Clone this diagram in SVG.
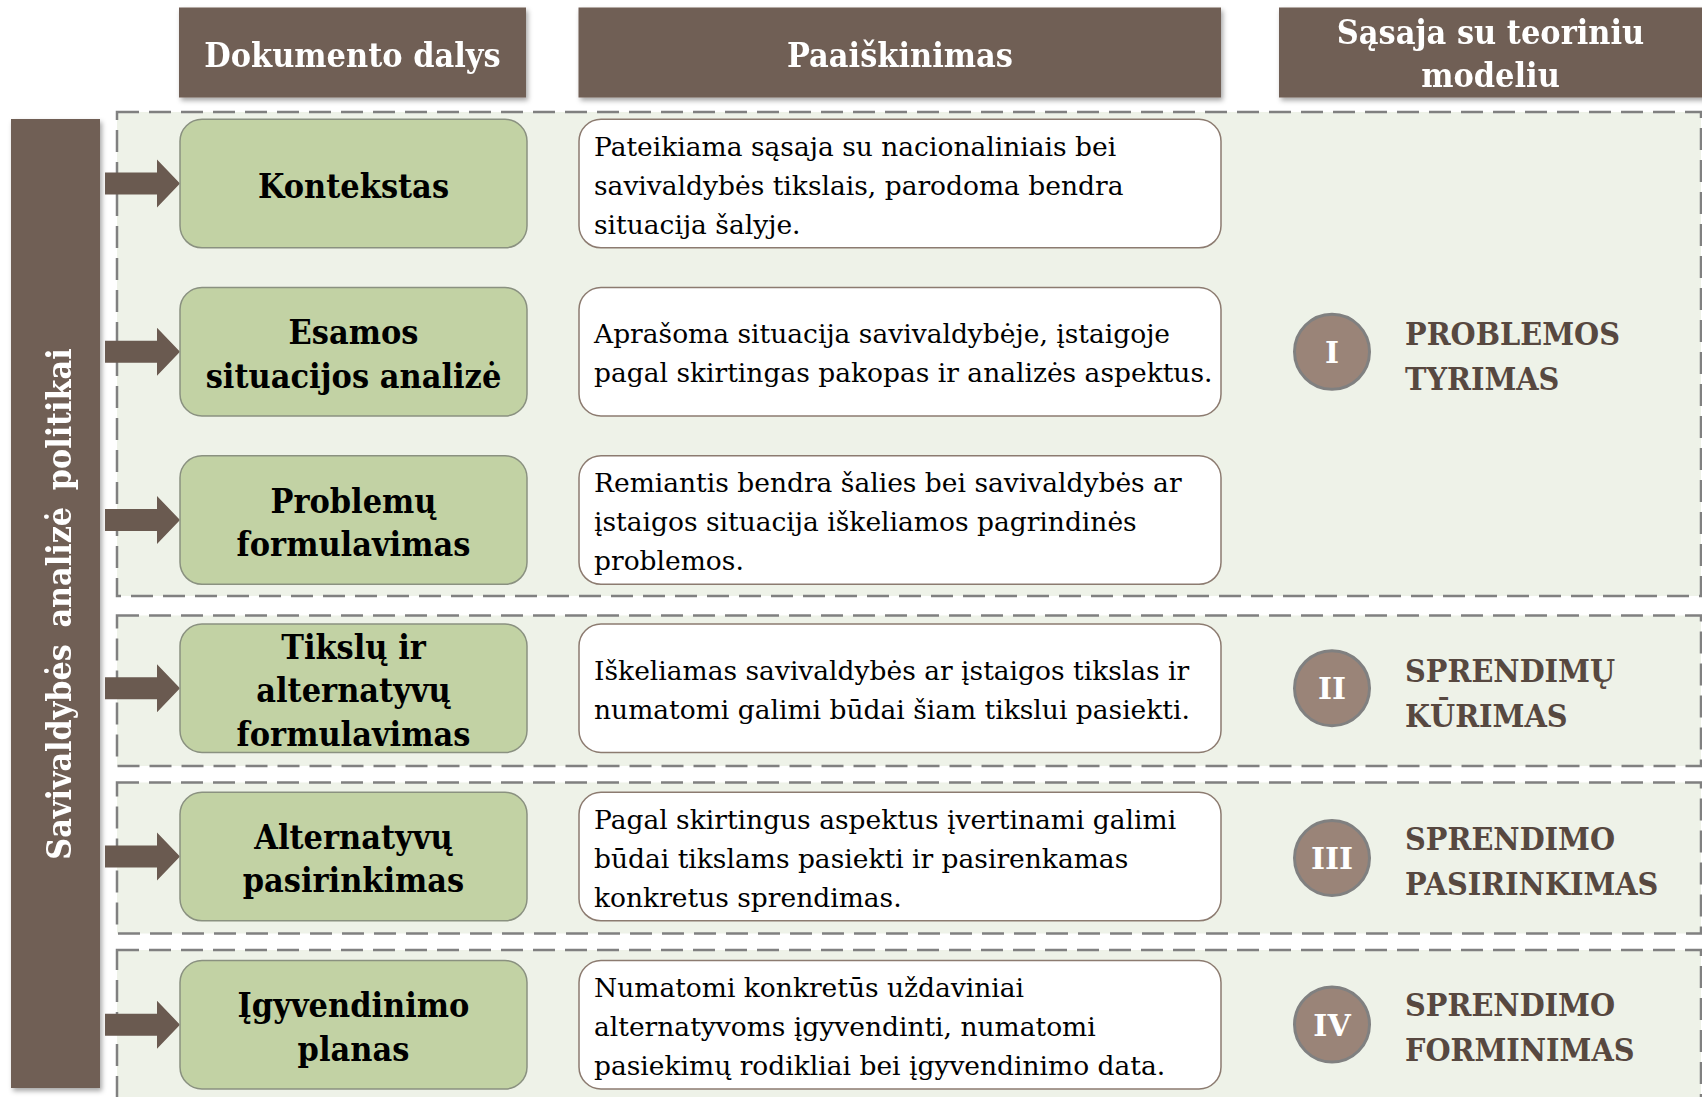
<svg xmlns="http://www.w3.org/2000/svg" width="1702" height="1097" viewBox="0 0 1702 1097">
  <defs>
    <filter id="sh" x="-5%" y="-5%" width="112%" height="125%">
      <feDropShadow dx="2" dy="3" stdDeviation="2.5" flood-color="#000" flood-opacity="0.35"/>
    </filter>
    <filter id="shv" x="-10%" y="-2%" width="125%" height="105%">
      <feDropShadow dx="2" dy="3" stdDeviation="2.5" flood-color="#000" flood-opacity="0.35"/>
    </filter>
  </defs>
  <style>
    .hdr { fill: #705F55; }
    .htxt { font-family: "DejaVu Serif", serif; font-weight: bold; font-size: 33px; fill: #FFFFFF; text-anchor: middle; }
    .vtxt { font-family: "DejaVu Serif", serif; font-weight: bold; font-size: 34px; fill: #FFFFFF; text-anchor: middle; }
    .grp { fill: #EEF2E8; stroke: #808080; stroke-width: 2.5; stroke-dasharray: 22 10; }
    .gbox { fill: #C2D2A4; stroke: #8A9180; stroke-width: 1.5; }
    .gtxt { font-family: "DejaVu Serif", serif; font-weight: bold; font-size: 33px; fill: #000000; text-anchor: middle; }
    .wbox { fill: #FFFFFF; stroke: #8C7B70; stroke-width: 1.5; }
    .dtxt { font-family: "DejaVu Serif", serif; font-size: 26.5px; fill: #000000; }
    .circ { fill: #9A8478; stroke: #808080; stroke-width: 3; }
    .rom { font-family: "DejaVu Serif", serif; font-weight: bold; font-size: 30px; fill: #FFFFFF; text-anchor: middle; }
    .lbl { font-family: "DejaVu Serif", serif; font-weight: bold; font-size: 32px; fill: #574840; }
    .arr { fill: #6A5A50; }
  </style>

  <!-- dashed stage groups -->
  <g id="stages">
    <rect id="stage1" class="grp" x="117" y="112" width="1584" height="484"/>
    <rect id="stage2" class="grp" x="117" y="615.5" width="1584" height="150.5"/>
    <rect id="stage3" class="grp" x="117" y="782.5" width="1584" height="151"/>
    <rect id="stage4" class="grp" x="117" y="950" width="1584" height="170"/>
  </g>

  <!-- column headers -->
  <g id="header-parts" filter="url(#sh)">
    <rect class="hdr" x="179" y="7.5" width="347" height="90"/>
    <g transform="matrix(0.924 0 0 1 26.79 0)"><text class="htxt" x="352.5" y="67">Dokumento dalys</text></g>
  </g>
  <g id="header-explanation" filter="url(#sh)">
    <rect class="hdr" x="578.5" y="7.5" width="642.5" height="90"/>
    <g transform="matrix(0.924 0 0 1 68.4 0)"><text class="htxt" x="900" y="67">Paaiškinimas</text></g>
  </g>
  <g id="header-model" filter="url(#sh)">
    <rect class="hdr" x="1279" y="7.5" width="430" height="90"/>
    <g transform="matrix(0.924 0 0 1 113.28 0)">
      <text class="htxt" x="1490.5" y="44.5">Sąsaja su teoriniu</text>
      <text class="htxt" x="1490.5" y="87.5">modeliu</text>
    </g>
  </g>

  <!-- left vertical bar -->
  <g id="policy-bar" filter="url(#shv)">
    <rect class="hdr" x="11" y="119" width="89" height="969"/>
    <text class="vtxt" transform="translate(71,604) rotate(-90) scale(0.89 1)" x="0" y="0" word-spacing="7">Savivaldybės analizė politikai</text>
  </g>

  <!-- connectors -->
  <g id="connectors">
    <polygon class="arr" points="105,172.5 157,172.5 157,159.5 180,183.5 157,207.5 157,194.5 105,194.5"/>
    <polygon class="arr" points="105,340.8 157,340.8 157,327.8 180,351.8 157,375.8 157,362.8 105,362.8"/>
    <polygon class="arr" points="105,509 157,509 157,496 180,520 157,544 157,531 105,531"/>
    <polygon class="arr" points="105,677.2 157,677.2 157,664.2 180,688.2 157,712.2 157,699.2 105,699.2"/>
    <polygon class="arr" points="105,845.5 157,845.5 157,832.5 180,856.5 157,880.5 157,867.5 105,867.5"/>
    <polygon class="arr" points="105,1013.7 157,1013.7 157,1000.7 180,1024.7 157,1048.7 157,1035.7 105,1035.7"/>
  </g>

  <!-- row 1 -->
  <g id="part-kontekstas">
    <rect class="gbox" x="180" y="119.3" width="347" height="128.5" rx="22"/>
    <g transform="matrix(0.924 0 0 1 26.87 0)"><text class="gtxt" x="353.5" y="198">Kontekstas</text></g>
  </g>
  <g id="desc-kontekstas">
    <rect class="wbox" x="579" y="119.3" width="642" height="128.5" rx="22"/>
    <text class="dtxt"><tspan x="594" y="155.5">Pateikiama sąsaja su nacionaliniais bei</tspan><tspan x="594" y="194.5">savivaldybės tikslais, parodoma bendra</tspan><tspan x="594" y="233.5">situacija šalyje.</tspan></text>
  </g>

  <!-- row 2 -->
  <g id="part-esamos">
    <rect class="gbox" x="180" y="287.5" width="347" height="128.5" rx="22"/>
    <g transform="matrix(0.924 0 0 1 26.87 0)"><text class="gtxt"><tspan x="353.5" y="344.5">Esamos</tspan><tspan x="353.5" y="388">situacijos analizė</tspan></text></g>
  </g>
  <g id="desc-esamos">
    <rect class="wbox" x="579" y="287.5" width="642" height="128.5" rx="22"/>
    <text class="dtxt"><tspan x="594" y="343.3">Aprašoma situacija savivaldybėje, įstaigoje</tspan><tspan x="594" y="382.3">pagal skirtingas pakopas ir analizės aspektus.</tspan></text>
  </g>

  <!-- row 3 -->
  <g id="part-problemu">
    <rect class="gbox" x="180" y="455.8" width="347" height="128.5" rx="22"/>
    <g transform="matrix(0.924 0 0 1 26.87 0)"><text class="gtxt"><tspan x="353.5" y="512.8">Problemų</tspan><tspan x="353.5" y="556.3">formulavimas</tspan></text></g>
  </g>
  <g id="desc-problemu">
    <rect class="wbox" x="579" y="455.8" width="642" height="128.5" rx="22"/>
    <text class="dtxt"><tspan x="594" y="492">Remiantis bendra šalies bei savivaldybės ar</tspan><tspan x="594" y="531">įstaigos situacija iškeliamos pagrindinės</tspan><tspan x="594" y="570">problemos.</tspan></text>
  </g>

  <!-- row 4 -->
  <g id="part-tikslu">
    <rect class="gbox" x="180" y="624" width="347" height="128.5" rx="22"/>
    <g transform="matrix(0.924 0 0 1 26.87 0)"><text class="gtxt"><tspan x="353.5" y="659">Tikslų ir</tspan><tspan x="353.5" y="702.5">alternatyvų</tspan><tspan x="353.5" y="746">formulavimas</tspan></text></g>
  </g>
  <g id="desc-tikslu">
    <rect class="wbox" x="579" y="624" width="642" height="128.5" rx="22"/>
    <text class="dtxt"><tspan x="594" y="679.7">Iškeliamas savivaldybės ar įstaigos tikslas ir</tspan><tspan x="594" y="718.7">numatomi galimi būdai šiam tikslui pasiekti.</tspan></text>
  </g>

  <!-- row 5 -->
  <g id="part-alternatyvu">
    <rect class="gbox" x="180" y="792.3" width="347" height="128.5" rx="22"/>
    <g transform="matrix(0.924 0 0 1 26.87 0)"><text class="gtxt"><tspan x="353.5" y="849">Alternatyvų</tspan><tspan x="353.5" y="892.5">pasirinkimas</tspan></text></g>
  </g>
  <g id="desc-alternatyvu">
    <rect class="wbox" x="579" y="792.3" width="642" height="128.5" rx="22"/>
    <text class="dtxt"><tspan x="594" y="828.5">Pagal skirtingus aspektus įvertinami galimi</tspan><tspan x="594" y="867.5">būdai tikslams pasiekti ir pasirenkamas</tspan><tspan x="594" y="906.5">konkretus sprendimas.</tspan></text>
  </g>

  <!-- row 6 -->
  <g id="part-igyvendinimo">
    <rect class="gbox" x="180" y="960.5" width="347" height="128.5" rx="22"/>
    <g transform="matrix(0.924 0 0 1 26.87 0)"><text class="gtxt"><tspan x="353.5" y="1017.5">Įgyvendinimo</tspan><tspan x="353.5" y="1061">planas</tspan></text></g>
  </g>
  <g id="desc-igyvendinimo">
    <rect class="wbox" x="579" y="960.5" width="642" height="128.5" rx="22"/>
    <text class="dtxt"><tspan x="594" y="996.7">Numatomi konkretūs uždaviniai</tspan><tspan x="594" y="1035.7">alternatyvoms įgyvendinti, numatomi</tspan><tspan x="594" y="1074.7">pasiekimų rodikliai bei įgyvendinimo data.</tspan></text>
  </g>

  <!-- model stages -->
  <g id="model-1">
    <circle class="circ" cx="1332" cy="351.8" r="37.5"/>
    <text class="rom" x="1332" y="363">I</text>
    <g transform="matrix(0.9 0 0 1 140.5 0)"><text class="lbl"><tspan x="1405" y="345">PROBLEMOS</tspan><tspan x="1405" y="390">TYRIMAS</tspan></text></g>
  </g>
  <g id="model-2">
    <circle class="circ" cx="1332" cy="688.2" r="37.5"/>
    <text class="rom" x="1332" y="699.4">II</text>
    <g transform="matrix(0.9 0 0 1 140.5 0)"><text class="lbl"><tspan x="1405" y="681.7">SPRENDIMŲ</tspan><tspan x="1405" y="727">KŪRIMAS</tspan></text></g>
  </g>
  <g id="model-3">
    <circle class="circ" cx="1332" cy="858" r="37.5"/>
    <text class="rom" x="1332" y="869.2">III</text>
    <g transform="matrix(0.9 0 0 1 140.5 0)"><text class="lbl"><tspan x="1405" y="850">SPRENDIMO</tspan><tspan x="1405" y="895">PASIRINKIMAS</tspan></text></g>
  </g>
  <g id="model-4">
    <circle class="circ" cx="1332" cy="1024.5" r="37.5"/>
    <text class="rom" x="1332" y="1035.7">IV</text>
    <g transform="matrix(0.9 0 0 1 140.5 0)"><text class="lbl"><tspan x="1405" y="1016.5">SPRENDIMO</tspan><tspan x="1405" y="1061.5">FORMINIMAS</tspan></text></g>
  </g>
</svg>
